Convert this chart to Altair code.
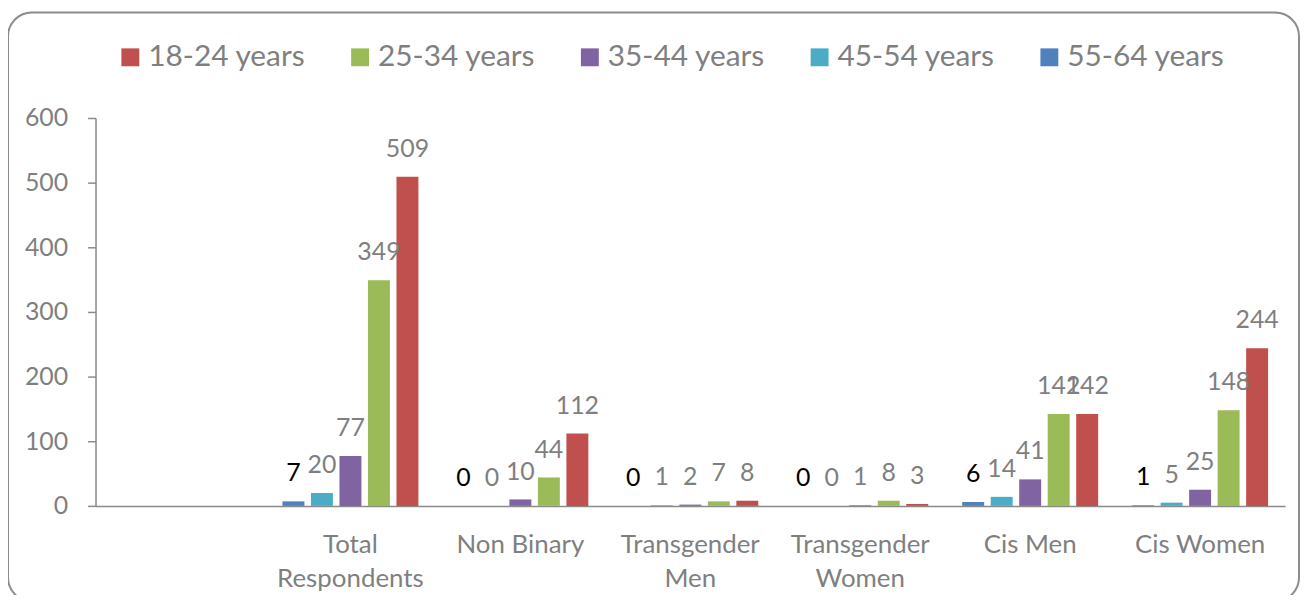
import altair as alt
import pandas as pd

categories = ["Total Respondents", "Non Binary", "Transgender Men",
              "Transgender Women", "Cis Men", "Cis Women"]
series = ["18-24 years", "25-34 years", "35-44 years", "45-54 years", "55-64 years"]
colors = ["#C0504D", "#9BBB59", "#8064A2", "#4BACC6", "#4F81BD"]

v18_24 = [509, 112, 8, 3, 142, 244]
v25_34 = [349, 44, 7, 8, 142, 148]
v35_44 = [77, 10, 2, 1, 41, 25]
v45_54 = [20, 0, 1, 0, 14, 5]
v55_64 = [7, 0, 0, 0, 6, 1]

values_by_series = {
    "18-24 years": v18_24,
    "25-34 years": v25_34,
    "35-44 years": v35_44,
    "45-54 years": v45_54,
    "55-64 years": v55_64,
}

rows = []
for s, vals in values_by_series.items():
    for c, v in zip(categories, vals):
        rows.append({"category": c, "series": s, "value": v})
df = pd.DataFrame(rows)

x_domain = [""] + categories
offset_order = list(reversed(series))
GRAY = "#7f7f7f"
AXIS = "#8a8a8a"

x_scale = alt.Scale(domain=x_domain, paddingInner=0.2, paddingOuter=0.1)
x_enc = alt.X("category:N", scale=x_scale,
              axis=alt.Axis(title=None, labelAngle=0, ticks=False, labelFontSize=26,
                            labelColor=GRAY, domainColor=AXIS, domainWidth=1.5,
                            labelPadding=26, labelLineHeight=34, labelBaseline="top",
                            labelExpr="(datum.label == 'Total Respondents' || indexof(datum.label, 'Transgender') >= 0) ? split(datum.label, ' ') : datum.label"))
xo_enc = alt.XOffset("series:N", scale=alt.Scale(domain=offset_order, paddingInner=0.23, paddingOuter=0))
y_enc = alt.Y("value:Q", scale=alt.Scale(domain=[0, 600], nice=False),
              axis=alt.Axis(title=None, values=[0, 100, 200, 300, 400, 500, 600], grid=False,
                            tickSize=8, tickColor=AXIS, domainColor=AXIS, domainWidth=1.5,
                            tickWidth=1.5, labelFontSize=25, labelColor=GRAY, labelPadding=20))

bars = alt.Chart(df).mark_bar().encode(
    x=x_enc,
    xOffset=xo_enc,
    y=y_enc,
    color=alt.Color("series:N", scale=alt.Scale(domain=series, range=colors),
                    legend=alt.Legend(orient="none", legendX=20, legendY=-76,
                                      direction="horizontal", columns=5, title=None,
                                      symbolType="square", symbolSize=324,
                                      symbolStrokeWidth=0, labelFontSize=30,
                                      labelColor=GRAY, labelOffset=3,
                                      columnPadding=39, padding=0)),
)

text = alt.Chart(df).mark_text(baseline="alphabetic", dy=-20, fontSize=25).encode(
    x=alt.X("category:N", scale=x_scale),
    xOffset=xo_enc,
    y=alt.Y("value:Q"),
    text=alt.Text("value:Q"),
    color=alt.condition(alt.datum.series == "55-64 years", alt.value("#000000"), alt.value(GRAY)),
)

frame = alt.Chart(pd.DataFrame({"a": [0]})).mark_rect(
    fill=None, stroke="#8c8c8c", strokeWidth=2, cornerRadius=24, clip=False
).encode(
    x=alt.value(-88), x2=alt.value(1210),
    y=alt.value(-106), y2=alt.value(486),
)

chart = alt.layer(frame, bars, text).properties(
    width=1196, height=390,
    autosize=alt.AutoSizeParams(type="none"),
    padding={"left": 88, "top": 109, "right": 16, "bottom": 88},
).configure(font="Lato").configure_view(stroke=None)

chart.save("out.html", embed_options={"renderer": "svg", "actions": False})
